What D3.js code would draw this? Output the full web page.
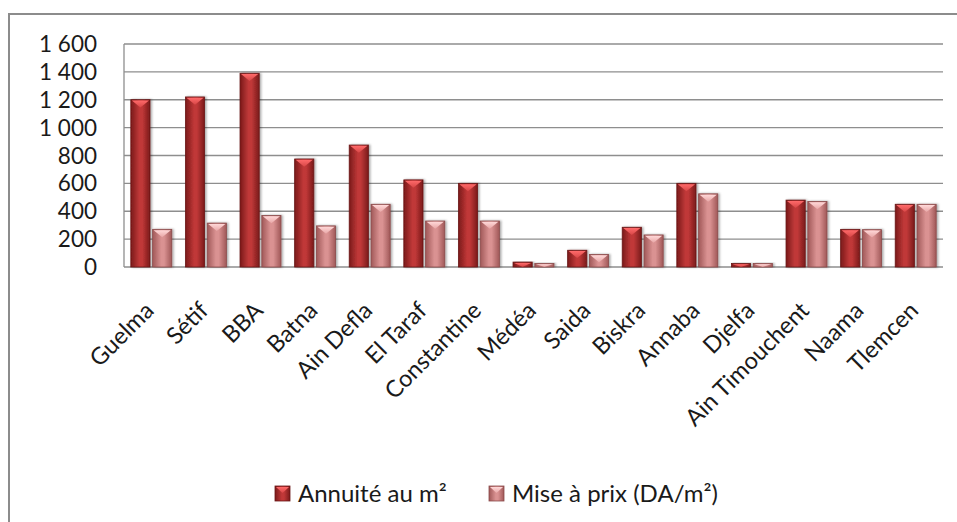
<!DOCTYPE html>
<html>
<head>
<meta charset="utf-8">
<script src="https://cdn.jsdelivr.net/npm/d3@7"></script>
<style>
html,body{margin:0;padding:0;background:#fff;}
svg{display:block;font-family:Lato, "Open Sans", sans-serif;}
</style>
</head>
<body>
<svg id="chart" width="957" height="522"></svg>
<script>
const categories = ["Guelma","Sétif","BBA","Batna","Ain Defla","El Taraf","Constantine","Médéa","Saida","Biskra","Annaba","Djelfa","Ain Timouchent","Naama","Tlemcen"];
const annuite = [1200,1220,1390,775,875,625,600,35,120,285,600,25,480,270,450];
const miseAPrix = [270,315,370,295,450,330,330,25,90,230,525,25,470,268,450];
const seriesNames = ["Annuité au m²","Mise à prix (DA/m²)"];
const yTicks = [0,200,400,600,800,1000,1200,1400,1600];

const svg = d3.select("#chart");
const W = 957, H = 522;
const plot = {left:124, right:943, top:44, bottom:267};

const defs = svg.append("defs");
const palettes = [
  {id:"g0", edge:"#7a1a1a", mid:"#c03838", hi:"#ff6a6a", hiEdge:"#d64646", stroke:"#6a1515"},
  {id:"g1", edge:"#a05858", mid:"#da9292", hi:"#ffd8d8", hiEdge:"#e8a6a6", stroke:"#8a4a4a"}
];
palettes.forEach(p=>{
  const g = defs.append("linearGradient").attr("id",p.id).attr("x1","0").attr("x2","1").attr("y1","0").attr("y2","0");
  g.append("stop").attr("offset","0").attr("stop-color",p.edge);
  g.append("stop").attr("offset","0.45").attr("stop-color",p.mid);
  g.append("stop").attr("offset","0.6").attr("stop-color",p.mid);
  g.append("stop").attr("offset","1").attr("stop-color",p.edge);
  const h = defs.append("linearGradient").attr("id",p.id+"h").attr("x1","0").attr("x2","0").attr("y1","0").attr("y2","1");
  h.append("stop").attr("offset","0").attr("stop-color",p.hi);
  h.append("stop").attr("offset","1").attr("stop-color",p.hiEdge);
});
const shadow = defs.append("filter").attr("id","sh").attr("x","-20%").attr("y","-20%").attr("width","150%").attr("height","140%");
shadow.append("feDropShadow").attr("dx",1.5).attr("dy",0).attr("stdDeviation",1.2).attr("flood-color","#000").attr("flood-opacity",0.35);

// outer border
svg.append("rect").attr("x",9).attr("y",14).attr("width",W+20).attr("height",H+20)
  .attr("fill","none").attr("stroke","#8c8c8c").attr("stroke-width",2);

const x0 = d3.scaleBand().domain(categories).range([plot.left, plot.right]).paddingInner(0.25).paddingOuter(0.125);
const x1 = d3.scaleBand().domain([0,1]).range([0, x0.bandwidth()]).paddingInner(0.12);
const y = d3.scaleLinear().domain([0,1600]).range([plot.bottom, plot.top]);

const locale = d3.formatLocale({decimal:",", thousands:" ", grouping:[3], currency:["",""]});
const fmt = locale.format(",");

// gridlines
svg.append("g").selectAll("line").data(yTicks).join("line")
  .attr("x1",plot.left).attr("x2",plot.right)
  .attr("y1",d=>y(d)).attr("y2",d=>y(d))
  .attr("stroke","#8e8e8e").attr("stroke-width",1.3);
// left axis line
svg.append("line").attr("x1",plot.left).attr("x2",plot.left).attr("y1",plot.top).attr("y2",plot.bottom)
  .attr("stroke","#8e8e8e").attr("stroke-width",1.3);

// y tick labels
svg.append("g").selectAll("text").data(yTicks).join("text")
  .attr("x",97).attr("y",d=>y(d)).attr("dy","0.36em")
  .attr("text-anchor","end").attr("font-size",22.5).attr("fill","#1a1a1a")
  .text(d=>fmt(d));

// bars
const rows = categories.map((c,i)=>({cat:c, vals:[annuite[i], miseAPrix[i]]}));
const groups = svg.append("g").selectAll("g").data(rows).join("g")
  .attr("transform",d=>`translate(${x0(d.cat)},0)`);
const bars = groups.selectAll("g.bar").data(d=>d.vals.map((v,k)=>({v,k}))).join("g").attr("class","bar");
bars.append("rect")
  .attr("x",d=>x1(d.k)).attr("width",x1.bandwidth())
  .attr("y",d=>y(d.v)).attr("height",d=>y(0)-y(d.v))
  .attr("fill",d=>`url(#${palettes[d.k].id})`)
  .attr("stroke",d=>palettes[d.k].stroke).attr("stroke-width",0.8)
  .attr("filter","url(#sh)");
bars.append("path")
  .attr("d",d=>{
    const xa = x1(d.k)+1, xb = x1(d.k)+x1.bandwidth()-1, top = y(d.v)+0.8;
    const hh = Math.min(7, (y(0)-y(d.v))-1);
    return `M${xa},${top}L${xb},${top}L${(xa+xb)/2},${top+hh}Z`;
  })
  .attr("fill",d=>`url(#${palettes[d.k].id}h)`);

// x labels
svg.append("g").selectAll("text").data(categories).join("text")
  .attr("transform",d=>`translate(${x0(d)+x0.bandwidth()/2+4},${plot.bottom+45}) rotate(-45)`)
  .attr("text-anchor","end").attr("font-size",23.5).attr("fill","#1a1a1a")
  .text(d=>d);

// legend
const legendItems = [{name:seriesNames[0],k:0,x:275},{name:seriesNames[1],k:1,x:489}];
const lg = svg.append("g").selectAll("g").data(legendItems).join("g")
  .attr("transform",d=>`translate(${d.x},486)`);
lg.append("rect").attr("width",15).attr("height",15)
  .attr("fill",d=>`url(#${palettes[d.k].id})`).attr("stroke",d=>palettes[d.k].stroke).attr("stroke-width",0.8);
lg.append("path").attr("d","M1,1L14,1L7.5,7Z").attr("fill",d=>`url(#${palettes[d.k].id}h)`);
lg.append("text").attr("x",23).attr("y",7.5).attr("dy","0.36em")
  .attr("font-size",24).attr("fill","#1a1a1a").text(d=>d.name);
</script>
</body>
</html>
